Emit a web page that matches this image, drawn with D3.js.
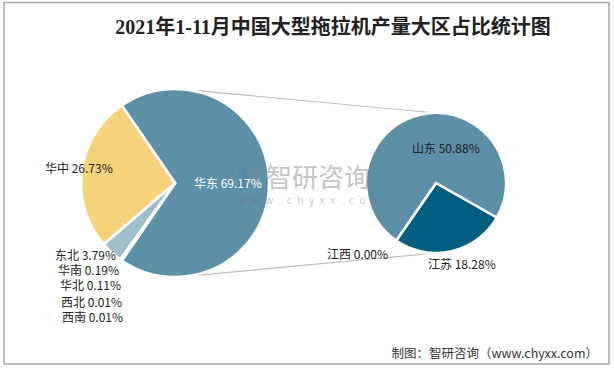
<!DOCTYPE html>
<html>
<head>
<meta charset="utf-8">
<script src="https://cdn.jsdelivr.net/npm/d3@7"></script>
<style>
	html, body { margin: 0; padding: 0; background: #fff; }
	svg text { font-family: "Noto Sans CJK SC", "Noto Sans", sans-serif; }
</style>
</head>
<body>
<svg id="chart" width="614" height="370"></svg>
<script>
// 大区占比 (first pie), drawn clockwise from the 华东 slice
var regionNames = ["华东", "西南", "西北", "华北", "华南", "东北", "华中"];
var regionValues = [69.17, 0.01, 0.01, 0.11, 0.19, 3.79, 26.73];
var regionColors = ["#5b90a6", "#c9d9e0", "#c9d9e0", "#c9d9e0", "#c9d9e0", "#9fbecb", "#f6d27b"];

// 华东 breakdown (second pie)
var provinceNames = ["江苏", "江西", "山东"];
var provinceValues = [18.28, 0.00, 50.88];
var provinceColors = ["#005f80", "#7fa9bb", "#5b90a6"];

var titleText = "2021年1-11月中国大型拖拉机产量大区占比统计图";
var sourceText = "制图：智研咨询（www.chyxx.com）";

var svg = d3.select("#chart");
var rad = Math.PI / 180;

// frame
svg.append("rect")
	.attr("x", 4).attr("y", 2.5)
	.attr("width", 605).attr("height", 361.5)
	.attr("fill", "none")
	.attr("stroke", "#a6a6a6")
	.attr("stroke-width", 1.5);

svg.append("text")
	.attr("x", 333).attr("y", 34)
	.attr("text-anchor", "middle")
	.style("font-family", "'Liberation Serif', 'Noto Sans CJK SC', serif")
	.style("font-weight", "bold")
	.style("font-size", "20px")
	.attr("fill", "#222")
	.text(titleText);

// geometry
var p1 = {cx: 175, cy: 183, r: 94};
var p2 = {cx: 436, cy: 183, r: 70};

// connector lines (behind pies)
var topA = 5 * rad, botA = 177 * rad;
svg.append("line")
	.attr("x1", p1.cx + p1.r * Math.sin(topA)).attr("y1", p1.cy - p1.r * Math.cos(topA))
	.attr("x2", p2.cx).attr("y2", p2.cy - p2.r)
	.attr("stroke", "#bdbdbd").attr("stroke-width", 1.2);
svg.append("line")
	.attr("x1", p1.cx + p1.r * Math.sin(botA)).attr("y1", p1.cy - p1.r * Math.cos(botA))
	.attr("x2", p2.cx).attr("y2", p2.cy + p2.r)
	.attr("stroke", "#bdbdbd").attr("stroke-width", 1.2);

// first pie
var span1 = regionValues[0] / d3.sum(regionValues) * 360;
var pie1 = d3.pie().sort(null)
	.startAngle((90 - span1 / 2) * rad)
	.endAngle((450 - span1 / 2) * rad);
var arc1 = d3.arc().innerRadius(0).outerRadius(p1.r);
var arcs1 = pie1(regionValues);

svg.append("g")
	.attr("transform", "translate(" + p1.cx + "," + p1.cy + ")")
	.selectAll("path")
	.data(arcs1)
	.join("path")
	.attr("d", arc1)
	.attr("fill", function(d, i){ return regionColors[i]; })
	.attr("stroke", "#fff")
	.attr("stroke-width", 2.5)
	.attr("stroke-linejoin", "round");

// second pie
var pie2 = d3.pie().sort(null)
	.startAngle(119.5 * rad)
	.endAngle(479.5 * rad);
var arc2 = d3.arc().innerRadius(0).outerRadius(p2.r);
svg.append("g")
	.attr("transform", "translate(" + p2.cx + "," + p2.cy + ")")
	.selectAll("path")
	.data(pie2(provinceValues))
	.join("path")
	.attr("d", arc2)
	.attr("fill", function(d, i){ return provinceColors[i]; })
	.attr("stroke", "#fff")
	.attr("stroke-width", 2.5)
	.attr("stroke-linejoin", "round");

// watermark, on top of the pies
var wm = svg.append("g").attr("opacity", 0.4);
wm.append("rect").attr("x", 238).attr("y", 167).attr("width", 8).attr("height", 21).attr("fill", "#4f7fa0");
wm.append("rect").attr("x", 249).attr("y", 167).attr("width", 12).attr("height", 21).attr("fill", "#7a8a96");
wm.append("text")
	.attr("x", 266).attr("y", 187)
	.style("font-size", "26px")
	.attr("fill", "#6e6e6e")
	.text("智研咨询");
wm.append("text")
	.attr("x", 238).attr("y", 204)
	.style("font-size", "10px")
	.style("letter-spacing", "5.6px")
	.attr("fill", "#6e6e6e")
	.text("www.chyxx.com");

// labels
var fmt = function(v){ return v.toFixed(2) + "%"; };
var regionLabelPos = {
	"华东": [194, 188, "#fff"],
	"华中": [45, 173, "#222"],
	"东北": [55, 260, "#222"],
	"华南": [58, 275, "#222"],
	"华北": [60, 290, "#222"],
	"西北": [61, 307, "#222"],
	"西南": [62, 322, "#222"]
};
svg.append("g").selectAll("text")
	.data(regionNames)
	.join("text")
	.attr("x", function(d){ return regionLabelPos[d][0]; })
	.attr("y", function(d){ return regionLabelPos[d][1]; })
	.attr("fill", function(d){ return regionLabelPos[d][2]; })
	.style("font-size", "12px")
	.text(function(d, i){ return d + " " + fmt(regionValues[i]); });

var provinceLabelPos = {
	"山东": [412, 153],
	"江苏": [428, 269],
	"江西": [327, 259]
};
svg.append("g").selectAll("text")
	.data(provinceNames)
	.join("text")
	.attr("x", function(d){ return provinceLabelPos[d][0]; })
	.attr("y", function(d){ return provinceLabelPos[d][1]; })
	.attr("fill", "#222")
	.style("font-size", "12px")
	.text(function(d, i){ return d + " " + fmt(provinceValues[i]); });

svg.append("text")
	.attr("x", 598).attr("y", 358)
	.attr("text-anchor", "end")
	.style("font-size", "12.5px")
	.attr("fill", "#333")
	.text(sourceText);
</script>
</body>
</html>
